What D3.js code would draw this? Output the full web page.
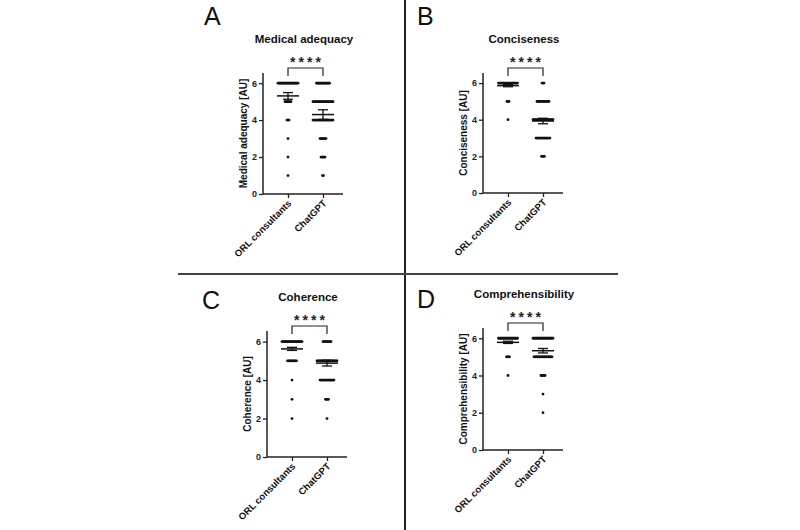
<!DOCTYPE html>
<html>
<head>
<meta charset="utf-8">
<script src="https://cdn.jsdelivr.net/npm/d3@7"></script>
<style>
  body { margin: 0; background: #fff; }
  svg { font-family: "Liberation Sans", Arial, sans-serif; }
  .tick text { font-size: 9px; font-weight: bold; fill: #222; }
</style>
</head>
<body>
<div id="chart"></div>
<script>
// values
var groups = ["ORL consultants", "ChatGPT"];
var panelLetters = ["A", "B", "C", "D"];
var panelTitles = ["Medical adequacy", "Conciseness", "Coherence", "Comprehensibility"];
var axisTitles = ["Medical adequacy [AU]", "Conciseness [AU]", "Coherence [AU]", "Comprehensibility [AU]"];
var yTicks = [0, 2, 4, 6];
var scoreLevels = [6, 5, 4, 3, 2, 1];
// number of answers at each score level (6..1)
var orlCounts = [[21, 7, 3, 1, 1, 1], [20, 3, 1, 0, 0, 0], [21, 10, 1, 1, 1, 0], [20, 4, 1, 0, 0, 0]];
var gptCounts = [[14, 21, 21, 7, 5, 2], [3, 13, 21, 15, 4, 0], [9, 21, 15, 4, 1, 0], [21, 19, 5, 1, 1, 0]];
var orlMean = [5.31, 5.86, 5.62, 5.78];
var orlErr = [0.18, 0.06, 0.08, 0.06];
var gptMean = [4.3, 3.93, 4.88, 5.33];
var gptErr = [0.26, 0.15, 0.15, 0.12];
var sigLabels = ["****", "****", "****", "****"];

var width = 800, height = 530;

// where each panel's axes sit
var layout = [
  {x: 263, bottom: 194, top: 73, letterX: 204, letterY: 25},
  {x: 483, bottom: 193, top: 73, letterX: 417, letterY: 25},
  {x: 267, bottom: 457, top: 331, letterX: 202, letterY: 309},
  {x: 483, bottom: 450, top: 328, letterX: 417, letterY: 308}
];

var svg = d3.select("#chart").append("svg")
    .attr("width", width)
    .attr("height", height);

// divider lines
svg.append("line")
    .attr("x1", 405).attr("x2", 405)
    .attr("y1", 0).attr("y2", height)
    .style("stroke", "#222").style("stroke-width", 2);
svg.append("line")
    .attr("x1", 178).attr("x2", 618)
    .attr("y1", 274).attr("y2", 274)
    .style("stroke", "#444").style("stroke-width", 2);

panelTitles.forEach(function(title, p) {
  var L = layout[p];
  var g = svg.append("g").attr("transform", "translate(" + L.x + "," + L.top + ")");
  var h = L.bottom - L.top;

  var y = d3.scaleLinear().domain([0, 6.55]).range([h, 0]);
  var x = d3.scalePoint().domain(groups).range([25, 60]);

  svg.append("text")
      .attr("x", L.letterX)
      .attr("y", L.letterY)
      .style("font-size", "25px")
      .style("fill", "#111")
      .text(panelLetters[p]);

  g.append("text")
      .attr("x", 41)
      .attr("y", -30)
      .attr("text-anchor", "middle")
      .style("font-size", "11.5px")
      .style("font-weight", "bold")
      .style("fill", "#111")
      .text(title);

  // y axis
  var yAxis = g.append("g")
      .call(d3.axisLeft(y).tickValues(yTicks).tickSize(4).tickPadding(2).tickFormat(d3.format("d")));
  yAxis.select(".domain").remove();
  yAxis.selectAll(".tick line").style("stroke", "#222").style("stroke-width", 1.3);

  g.append("line")
      .attr("x1", 0).attr("x2", 0)
      .attr("y1", 0).attr("y2", h)
      .style("stroke", "#222").style("stroke-width", 1.5);

  // x axis
  var xAxis = g.append("g")
      .attr("transform", "translate(0," + h + ")")
      .call(d3.axisBottom(x).tickSize(4).tickFormat(""));
  xAxis.select(".domain").remove();
  xAxis.selectAll(".tick line").style("stroke", "#222").style("stroke-width", 1.3);

  g.append("line")
      .attr("x1", 0).attr("x2", 80)
      .attr("y1", h).attr("y2", h)
      .style("stroke", "#222").style("stroke-width", 1.5);

  g.selectAll(".xlabel")
      .data(groups)
    .enter().append("text")
      .attr("class", "xlabel")
      .attr("text-anchor", "end")
      .attr("transform", function(d) { return "translate(" + (x(d) + 4) + "," + (h + 10) + ") rotate(-45)"; })
      .style("font-size", "9.5px")
      .style("font-weight", "bold")
      .style("fill", "#111")
      .text(function(d) { return d; });

  g.append("text")
      .attr("transform", "translate(-16," + (h / 2) + ") rotate(-90)")
      .attr("text-anchor", "middle")
      .style("font-size", "10px")
      .style("font-weight", "bold")
      .style("fill", "#111")
      .text(axisTitles[p]);

  // dots, spread sideways in rows by count
  var counts = [orlCounts[p], gptCounts[p]];
  var dots = [];
  counts.forEach(function(row, gi) {
    row.forEach(function(n, li) {
      for (var i = 0; i < n; i++) {
        dots.push({group: groups[gi], score: scoreLevels[li], off: (i - (n - 1) / 2) * 1.0});
      }
    });
  });

  g.selectAll(".dot")
      .data(dots)
    .enter().append("circle")
      .attr("class", "dot")
      .attr("cx", function(d) { return x(d.group) + d.off; })
      .attr("cy", function(d) { return y(d.score); })
      .attr("r", 1.4)
      .style("fill", "#111");

  // mean +/- error
  var stats = [
    {group: groups[0], mean: orlMean[p], err: orlErr[p]},
    {group: groups[1], mean: gptMean[p], err: gptErr[p]}
  ];
  stats.forEach(function(s) {
    var cx = x(s.group);
    g.append("line")
        .attr("x1", cx - 11).attr("x2", cx + 11)
        .attr("y1", y(s.mean)).attr("y2", y(s.mean))
        .style("stroke", "#111").style("stroke-width", 1.5);
    g.append("line")
        .attr("x1", cx).attr("x2", cx)
        .attr("y1", y(s.mean + s.err)).attr("y2", y(s.mean - s.err))
        .style("stroke", "#111").style("stroke-width", 1.3);
    [s.mean + s.err, s.mean - s.err].forEach(function(v) {
      g.append("line")
          .attr("x1", cx - 5).attr("x2", cx + 5)
          .attr("y1", y(v)).attr("y2", y(v))
          .style("stroke", "#111").style("stroke-width", 1.3);
    });
  });

  // significance bracket
  g.append("path")
      .attr("d", "M" + x(groups[0]) + ",3V-5H" + x(groups[1]) + "V3")
      .style("fill", "none")
      .style("stroke", "#222")
      .style("stroke-width", 1.2);

  g.append("text")
      .attr("x", (x(groups[0]) + x(groups[1])) / 2 + 1.5)
      .attr("y", -6)
      .attr("text-anchor", "middle")
      .style("font-size", "14px")
      .style("letter-spacing", "3px")
      .style("font-weight", "bold")
      .style("fill", "#222")
      .text(sigLabels[p]);
});
</script>
</body>
</html>
